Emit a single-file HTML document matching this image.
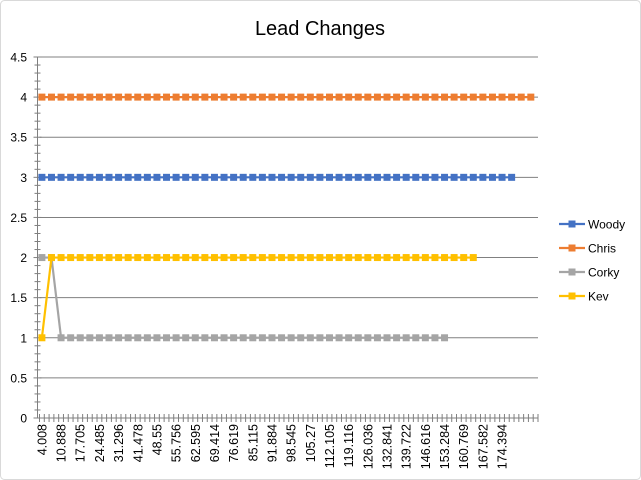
<!DOCTYPE html>
<html><head><meta charset="utf-8"><style>
body{margin:0;background:#fff;}
svg{display:block;font-family:"Liberation Sans",sans-serif;}
</style></head><body>
<svg id="chart" width="641" height="480" xmlns="http://www.w3.org/2000/svg">
<rect x="0.5" y="0.5" width="640" height="479" rx="4" fill="#fff" stroke="#d9d9d9"/>
<text x="320" y="35" text-anchor="middle" font-size="20" fill="#000">Lead Changes</text>
<g id="grid"></g><g id="axes"></g><g id="series"></g><g id="legend"></g>
</svg>
<script>
const xLabels=["4.008","10.888","17.705","24.485","31.296","41.478","48.55","55.756","62.595","69.414","76.619","85.115","91.884","98.545","105.27","112.105","119.116","126.036","132.841","139.722","146.616","153.284","160.769","167.582","174.394"];
const yTicks=[0,0.5,1,1.5,2,2.5,3,3.5,4,4.5];
const seriesNames=["Woody","Chris","Corky","Kev"];
const seriesColors=["#4472C4","#ED7D31","#A5A5A5","#FFC000"];
const woody=Array(50).fill(3);
const chris=Array(52).fill(4);
const corky=[2,2].concat(Array(41).fill(1));
const kev=[1].concat(Array(45).fill(2));
const seriesData=[woody,chris,corky,kev];

const NS="http://www.w3.org/2000/svg";
const plotL=39.5,plotR=538,plotT=57,plotB=418,yMax=4.5;
const nCat=104,catW=(plotR-plotL)/nCat;
function xCat(k){return plotL+(k+0.5)*catW;}
function xPt(i){return xCat(i*2);}
function y(v){return plotB-(v/yMax)*(plotB-plotT);}
function mk(tag,attrs,parent){const e=document.createElementNS(NS,tag);for(const k in attrs)e.setAttribute(k,attrs[k]);parent.appendChild(e);return e;}
const grid=document.getElementById('grid'),axes=document.getElementById('axes'),ser=document.getElementById('series'),leg=document.getElementById('legend');

yTicks.forEach(v=>{
  if(v>0){const g=mk('line',{x1:plotL,x2:plotR,y1:y(v),y2:y(v),stroke:'#808080','stroke-width':1},grid);
  
  }
  const t=mk('text',{x:27,y:y(v)+4.5,'text-anchor':'end','font-size':12,fill:'#000'},axes);
  t.textContent=String(v);
  
  
});
const ya=mk('line',{x1:plotL-2,x2:plotL-2,y1:plotT,y2:plotB,stroke:'#7f7f7f'},axes);


for(let v=0;v<=yMax+1e-9;v+=0.1){
  const major=Math.abs(v*2-Math.round(v*2))<1e-6;
  const tk=mk('line',{x1:plotL-(major?6:5),x2:plotL+(major?2:1),y1:y(v),y2:y(v),stroke:'#7f7f7f'},axes);
  
  
}
const xa=mk('line',{x1:plotL-2,x2:plotR,y1:plotB,y2:plotB,stroke:'#7f7f7f'},axes);


for(let k=0;k<=nCat;k++){
  const xx=plotL+k*catW;
  const tk=mk('line',{x1:xx,x2:xx,y1:plotB-4,y2:plotB+4,stroke:'#7f7f7f'},axes);
  
  
}
xLabels.forEach((l,j)=>{
  const xx=xCat(j*4)+4.5;
  const t=mk('text',{x:xx,y:424,'text-anchor':'end','font-size':12.5,fill:'#000',transform:`rotate(-90 ${xx} 424)`},axes);
  t.textContent=l;
  
  
});
seriesData.forEach((d,s)=>{
  const g=mk('g',{},ser);
  
  
  const pts=d.map((v,i)=>xPt(i)+','+y(v)).join(' ');
  const pl=mk('polyline',{points:pts,fill:'none',stroke:seriesColors[s],'stroke-width':2.2},g);
  
  
  d.forEach((v,i)=>{
    const r=mk('rect',{x:xPt(i)-3.5,y:y(v)-3.5,width:7,height:7,fill:seriesColors[s]},g);
    
    
  });
});
seriesNames.forEach((n,s)=>{
  const yy=224+s*24;
  const g=mk('g',{},leg);
  
  
  mk('line',{x1:559,x2:585,y1:yy,y2:yy,stroke:seriesColors[s],'stroke-width':2.2},g);
  mk('rect',{x:568.5,y:yy-3.5,width:7,height:7,fill:seriesColors[s]},g);
  const t=mk('text',{x:588,y:yy+4.5,'font-size':12,fill:'#000'},g);
  t.textContent=n;
});
</script>
</body></html>
